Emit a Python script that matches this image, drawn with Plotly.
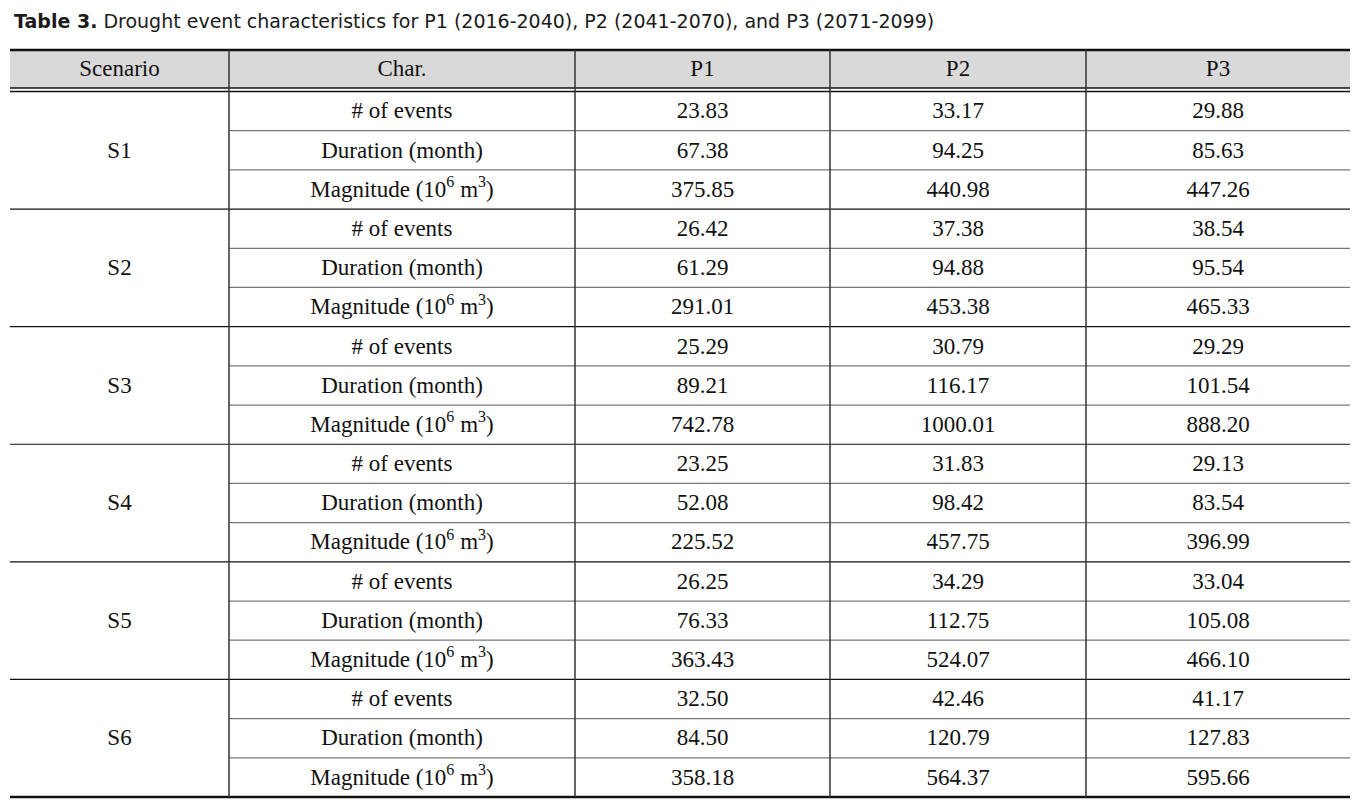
import plotly.graph_objects as go

# table content
scenarios = ['S1', 'S2', 'S3', 'S4', 'S5', 'S6']
chars = ['# of events', 'Duration (month)', 'Magnitude (10<sup>6</sup> m<sup>3</sup>)']
periods = ['P1', 'P2', 'P3']
header = ['Scenario', 'Char.'] + periods

p1 = ['23.83', '67.38', '375.85', '26.42', '61.29', '291.01',
      '25.29', '89.21', '742.78', '23.25', '52.08', '225.52',
      '26.25', '76.33', '363.43', '32.50', '84.50', '358.18']
p2 = ['33.17', '94.25', '440.98', '37.38', '94.88', '453.38',
      '30.79', '116.17', '1000.01', '31.83', '98.42', '457.75',
      '34.29', '112.75', '524.07', '42.46', '120.79', '564.37']
p3 = ['29.88', '85.63', '447.26', '38.54', '95.54', '465.33',
      '29.29', '101.54', '888.20', '29.13', '83.54', '396.99',
      '33.04', '105.08', '466.10', '41.17', '127.83', '595.66']

title = ('<b>Table 3.</b> Drought event characteristics for P1 (2016-2040), '
         'P2 (2041-2070), and P3 (2071-2099)')

# layout (screen pixel space)
W, H = 1369, 800
col_edges = [10, 229, 575, 830, 1086, 1350]
top, head_bot, body_top, bottom = 50, 88, 91.5, 797
n_rows = len(scenarios) * len(chars)
row_h = (bottom - body_top) / n_rows

serif = 'Liberation Serif'
txt_color = '#111111'


def col_center(j):
    return (col_edges[j] + col_edges[j + 1]) / 2


def row_center(i):
    # text sits a touch low in the cell, like the original
    return body_top + row_h * (i + 0.5) + 1.5


xs, ys, texts = [], [], []

# header
for j, h in enumerate(header):
    xs.append(col_center(j))
    ys.append((top + head_bot) / 2 + 1)
    texts.append(h)

# scenario labels (merged over 3 rows)
for g, s in enumerate(scenarios):
    xs.append(col_center(0))
    ys.append(row_center(g * 3 + 1))
    texts.append(s)

# char labels + values
values = [p1, p2, p3]
for i in range(n_rows):
    xs.append(col_center(1))
    ys.append(row_center(i))
    texts.append(chars[i % 3])
    for k, col in enumerate(values):
        xs.append(col_center(2 + k))
        ys.append(row_center(i))
        texts.append(col[i])

fig = go.Figure(go.Scatter(
    x=xs, y=ys, text=texts, mode='text',
    textposition='middle center',
    textfont=dict(family=serif, size=23, color=txt_color),
    hoverinfo='skip'))

shapes = []
# header fill
shapes.append(dict(type='rect', x0=col_edges[0], x1=col_edges[-1],
                   y0=top, y1=head_bot, fillcolor='#d9d9d9',
                   line_width=0, layer='below'))
# top & bottom rules
for yy in (top, bottom):
    shapes.append(dict(type='line', x0=col_edges[0], x1=col_edges[-1],
                       y0=yy, y1=yy, line=dict(color='#111111', width=2.6)))
# double line under header
for yy in (head_bot, body_top):
    shapes.append(dict(type='line', x0=col_edges[0], x1=col_edges[-1],
                       y0=yy, y1=yy, line=dict(color='#111111', width=1.3)))
# row lines
for i in range(1, n_rows):
    yy = body_top + row_h * i
    if i % 3 == 0:
        shapes.append(dict(type='line', x0=col_edges[0], x1=col_edges[-1],
                           y0=yy, y1=yy, line=dict(color='#111111', width=1.2)))
    else:
        shapes.append(dict(type='line', x0=col_edges[1], x1=col_edges[-1],
                           y0=yy, y1=yy, line=dict(color='#777777', width=1.3)))
# vertical lines
for xx in col_edges[1:-1]:
    shapes.append(dict(type='line', x0=xx, x1=xx, y0=top, y1=bottom,
                       line=dict(color='#333333', width=1.5)))

fig.update_layout(
    width=W, height=H,
    margin=dict(l=0, r=0, t=0, b=0, pad=0),
    paper_bgcolor='white', plot_bgcolor='white',
    showlegend=False,
    shapes=shapes,
    annotations=[dict(
        text=title, x=12, y=21, xref='x', yref='y',
        xanchor='left', yanchor='middle', showarrow=False,
        font=dict(family='DejaVu Sans', size=19, color='#1a1a1a'))],
    xaxis=dict(range=[0, W], visible=False, fixedrange=True),
    yaxis=dict(range=[H, 0], visible=False, fixedrange=True),
    dragmode=False,
)

fig.write_html('out.html',
               config={'displayModeBar': False, 'staticPlot': True},
               post_script="document.body.style.margin='0';"
                           "document.body.style.overflow='hidden';")
